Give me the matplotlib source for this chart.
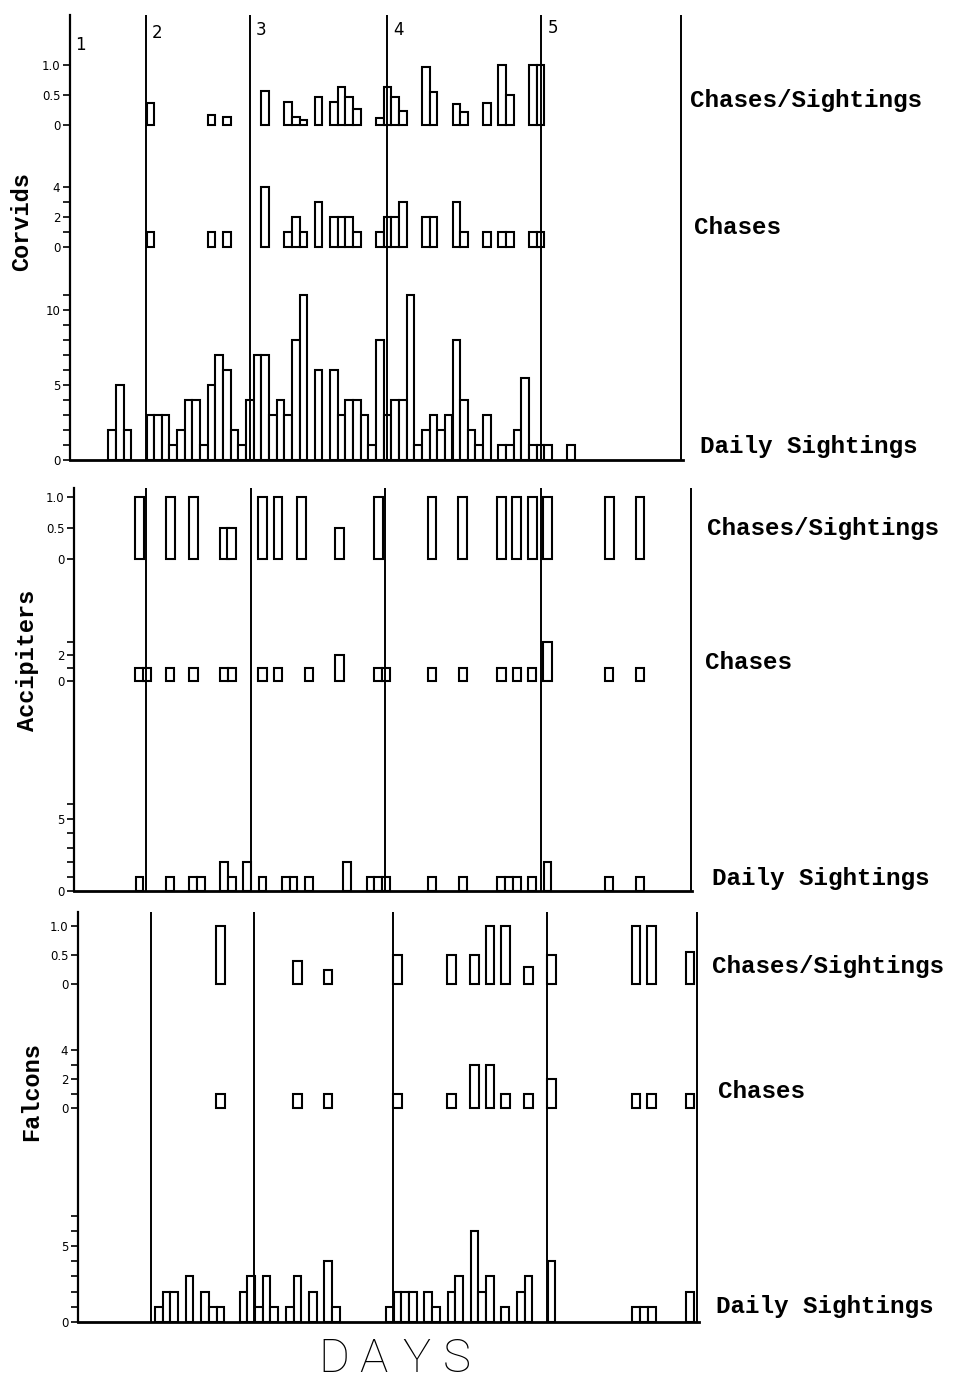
import matplotlib
matplotlib.use("Agg")
import matplotlib.pyplot as plt
import numpy as np

W, H, DPI = 954, 1385, 100

# ---------------- data (day index, value) ----------------
# Corvids
corvid_daily_days = [5, 6, 7, 10, 11, 12, 13, 14, 15, 16, 17, 18, 19, 20, 21, 22, 23, 24, 25, 26, 27, 28, 29, 30,
                     32, 34, 35, 36, 37, 38, 39, 40, 41, 42, 43, 44, 45, 46, 47, 48, 49, 50, 51, 52, 53, 54,
                     56, 57, 58, 59, 60, 61, 62, 65]
corvid_daily_vals = [2, 5, 2, 3, 3, 3, 1, 2, 4, 4, 1, 5, 7, 6, 2, 1, 4, 7, 7, 3, 4, 3, 8, 11,
                     6, 6, 3, 4, 4, 3, 1, 8, 3, 4, 4, 11, 1, 2, 3, 2, 3, 8, 4, 2, 1, 3,
                     1, 1, 2, 5.5, 1, 1, 1, 1]
corvid_chase_days = [10, 18, 20, 25, 28, 29, 30, 32, 34, 35, 36, 37, 40, 41, 42, 43, 46, 47, 50, 51, 54, 56, 57, 60, 61]
corvid_chase_vals = [1, 1, 1, 4, 1, 2, 1, 3, 2, 2, 2, 1, 1, 2, 2, 3, 2, 2, 3, 1, 1, 1, 1, 1, 1]
corvid_ratio_days = corvid_chase_days
corvid_ratio_vals = [0.37, 0.17, 0.13, 0.57, 0.38, 0.14, 0.08, 0.47, 0.39, 0.64, 0.47, 0.27, 0.11, 0.64,
                     0.47, 0.24, 0.97, 0.55, 0.35, 0.22, 0.36, 1.0, 0.5, 1.0, 1.0]

# Accipiters
accip_daily_days = [8, 12, 15, 16, 19, 20, 22, 24, 27, 28, 30, 35, 38, 39, 40, 46, 50, 55, 56, 57, 59, 61, 69, 73]
accip_daily_vals = [1, 1, 1, 1, 2, 1, 2, 1, 1, 1, 1, 2, 1, 1, 1, 1, 1, 1, 1, 1, 1, 2, 1, 1]
accip_chase_days = [8, 9, 12, 15, 19, 20, 24, 26, 30, 34, 39, 40, 46, 50, 55, 57, 59, 61, 69, 73]
accip_chase_vals = [1, 1, 1, 1, 1, 1, 1, 1, 1, 2, 1, 1, 1, 1, 1, 1, 1, 3, 1, 1]
accip_ratio_days = [8, 12, 15, 19, 20, 24, 26, 29, 34, 39, 46, 50, 55, 57, 59, 61, 69, 73]
accip_ratio_vals = [1.0, 1.0, 1.0, 0.5, 0.5, 1.0, 1.0, 1.0, 0.5, 1.0, 1.0, 1.0, 1.0, 1.0, 1.0, 1.0, 1.0, 1.0]

# Falcons
falcon_daily_days = [10, 11, 12, 14, 16, 17, 18, 21, 22, 23, 24, 25, 27, 28, 30, 32, 33,
                     40, 41, 42, 43, 45, 46, 48, 49, 51, 52, 53, 55, 57, 58, 61, 72, 73, 74, 79]
falcon_daily_vals = [1, 2, 2, 3, 2, 1, 1, 2, 3, 1, 3, 1, 1, 3, 2, 4, 1,
                     1, 2, 2, 2, 2, 1, 2, 3, 6, 2, 3, 1, 2, 3, 4, 1, 1, 1, 2]
falcon_chase_days = [18, 28, 32, 41, 48, 51, 53, 55, 58, 61, 72, 74, 79]
falcon_chase_vals = [1, 1, 1, 1, 1, 3, 3, 1, 1, 2, 1, 1, 1]
falcon_ratio_days = falcon_chase_days
falcon_ratio_vals = [1.0, 0.4, 0.25, 0.5, 0.5, 0.5, 1.0, 1.0, 0.3, 0.5, 1.0, 1.0, 0.55]

# period boundaries (in days) for each panel
corvid_dividers = [9.9, 23.5, 41.4, 61.6, 79.9]
accip_dividers = [9.35, 23.0, 40.45, 60.7, 80.1]
falcon_dividers = [9.5, 22.9, 40.9, 60.9, 80.4]
period_labels = ["1", "2", "3", "4", "5"]

row_names = ["Chases/Sightings", "Chases", "Daily Sightings"]

# ---------------- drawing ----------------
fig = plt.figure(figsize=(W / DPI, H / DPI), dpi=DPI)
fig.patch.set_facecolor("white")

MONO = ["Liberation Mono", "DejaVu Sans Mono"]


def px_axes(left, right, top, bottom):
    return fig.add_axes([left / W, 1 - bottom / H, (right - left) / W, (bottom - top) / H])


def draw_panel(ax, rows, dividers, xmax, ytop):
    # rows: list of (days, vals, base, scale, width, ticks, ticklabels)
    tick_pos, tick_lab = [], []
    for days, vals, base, scale, width, ticks, labels in rows:
        ax.bar(np.asarray(days) + 0.5, np.asarray(vals) * scale, width=width, bottom=base,
               facecolor="white", edgecolor="black", linewidth=1.5, zorder=2)
        tick_pos += [base + t * scale for t in ticks]
        tick_lab += labels
    for d in dividers:
        ax.axvline(d, color="black", lw=1.4, zorder=3)
    ax.set_xlim(0, xmax)
    ax.set_ylim(0, ytop)
    ax.set_xticks([])
    ax.set_yticks(tick_pos)
    ax.set_yticklabels(tick_lab)
    ax.tick_params(axis="y", direction="out", length=5, width=1.2, labelsize=8.5, pad=2)
    for s in ["top", "right"]:
        ax.spines[s].set_visible(False)
    ax.spines["left"].set_linewidth(1.6)
    ax.spines["bottom"].set_linewidth(2.0)
    ax.patch.set_alpha(0)


def lab(lst, keep):
    return [str(v) if v in keep else "" for v in lst]

# Corvids panel: baseline y=460 px, top y=15 px, left x=70, 7.65 px / day
ax1 = px_axes(70, 70 + 80.1 * 7.65, 15, 460)
draw_panel(ax1, [
    (corvid_ratio_days, corvid_ratio_vals, 335, 60, 1.0, [0, 0.5, 1.0], ["0", "0.5", "1.0"]),
    (corvid_chase_days, corvid_chase_vals, 213, 15, 1.0, [0, 1, 2, 3, 4], ["0", "", "2", "", "4"]),
    (corvid_daily_days, corvid_daily_vals, 0, 15, 1.0, list(range(12)),
     lab(list(range(12)), {0, 5, 10})),
], corvid_dividers, 80.1, 445)
lab_x = [1.3] + [d + 1.5 for d in corvid_dividers[:4]]
lab_y = [415, 427, 430, 430, 432]
for t, x, y in zip(period_labels, lab_x, lab_y):
    ax1.text(x, y, t, fontsize=12, ha="center", va="center", family="DejaVu Sans")

# Accipiters panel: baseline 891, top 488, left 74, 7.7 px / day
ax2 = px_axes(74, 74 + 80.3 * 7.7, 488, 891)
draw_panel(ax2, [
    (accip_ratio_days, accip_ratio_vals, 332, 62, 1.15, [0, 0.5, 1.0], ["0", "0.5", "1.0"]),
    (accip_chase_days, accip_chase_vals, 210, 13, 1.1, [0, 1, 2, 3], ["0", "", "2", ""]),
    (accip_daily_days, accip_daily_vals, 0, 14.5, 1.0, list(range(7)), lab(list(range(7)), {0, 5})),
], accip_dividers, 80.3, 403)

# Falcons panel: baseline 1322, top 912, left 78, 7.7 px / day
ax3 = px_axes(78, 78 + 80.6 * 7.7, 912, 1322)
draw_panel(ax3, [
    (falcon_ratio_days, falcon_ratio_vals, 338, 58, 1.1, [0, 0.5, 1.0], ["0", "0.5", "1.0"]),
    (falcon_chase_days, falcon_chase_vals, 214, 14.5, 1.1, [0, 1, 2, 3, 4], ["0", "", "2", "", "4"]),
    (falcon_daily_days, falcon_daily_vals, 0, 15.2, 1.0, list(range(8)), lab(list(range(8)), {0, 5})),
], falcon_dividers, 80.6, 410)


def ftext(x, y, s, **kw):
    fig.text(x / W, 1 - y / H, s, **kw)

# right-hand row labels
right_labels = [
    [(690, 100), (694, 228), (700, 446)],
    [(707, 528), (705, 663), (712, 879)],
    [(712, 966), (718, 1091), (716, 1306)],
]
for panel in right_labels:
    for (x, y), name in zip(panel, row_names):
        ftext(x, y, name, family=MONO, fontsize=17.5, weight="bold", ha="left", va="center")

# panel (group) labels
group_names = ["Corvids", "Accipiters", "Falcons"]
group_pos = [(22, 222), (28, 660), (32, 1092)]
for name, (x, y) in zip(group_names, group_pos):
    ftext(x, y, name, family=MONO, fontsize=17, weight="bold", rotation=90, ha="center", va="center")

# x axis title with wide letter spacing
for ch, x in zip("DAYS", [334, 373, 416, 457]):
    ftext(x, 1359, ch, family=["Roboto", "DejaVu Sans"], weight="light", fontsize=34,
          ha="center", va="center")

fig.savefig("out.png", dpi=DPI, facecolor="white")
